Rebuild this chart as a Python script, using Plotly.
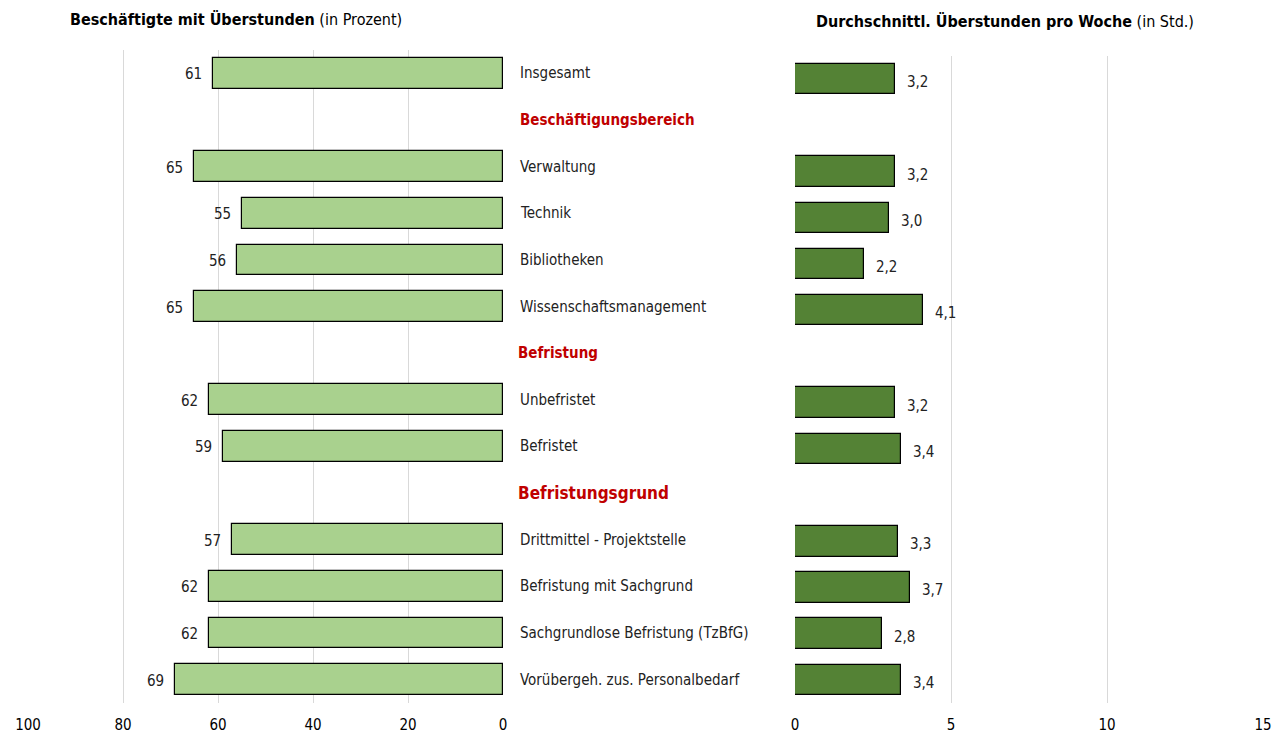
import plotly.graph_objects as go

categories = ["Insgesamt", "Beschäftigungsbereich", "Verwaltung", "Technik", "Bibliotheken",
              "Wissenschaftsmanagement", "Befristung", "Unbefristet", "Befristet",
              "Befristungsgrund", "Drittmittel - Projektstelle", "Befristung mit Sachgrund",
              "Sachgrundlose Befristung (TzBfG)", "Vorübergeh. zus. Personalbedarf"]
is_header = [False, True, False, False, False, False, True, False, False, True, False, False, False, False]
percent = [61, None, 65, 55, 56, 65, None, 62, 59, None, 57, 62, 62, 69]
hours = [3.2, None, 3.2, 3.0, 2.2, 4.1, None, 3.2, 3.4, None, 3.3, 3.7, 2.8, 3.4]
left_ticks = [100, 80, 60, 40, 20, 0]
right_ticks = [0, 5, 10, 15]

W, H = 1279, 735
FONT = "DejaVu Sans Condensed, DejaVu Sans"
FS = 15
ypos = list(range(len(categories)))

fig = go.Figure()
fig.add_trace(go.Bar(x=percent, y=ypos, orientation="h", xaxis="x", yaxis="y",
                     marker=dict(color="#A9D18E", line=dict(color="black", width=1.2)),
                     width=0.66, hoverinfo="x+y"))
fig.add_trace(go.Bar(x=hours, y=ypos, orientation="h", xaxis="x2", yaxis="y2",
                     marker=dict(color="#548235", line=dict(color="black", width=1.2)),
                     width=0.66, hoverinfo="x+y"))

ann = []
for i, (c, h, p, hr) in enumerate(zip(categories, is_header, percent, hours)):
    if h:
        size = 17 if c == "Befristungsgrund" else 15
        xp = 518 if c == "Beschäftigungsbereich" else 516
        ann.append(dict(text="<b>" + c + "</b>", x=xp / W, xref="paper", y=i, yref="y",
                        xanchor="left", yanchor="middle", showarrow=False,
                        font=dict(family=FONT, size=size, color="#C00000")))
    else:
        ann.append(dict(text=c, x=518 / W, xref="paper", y=i, yref="y",
                        xanchor="left", yanchor="middle", showarrow=False,
                        font=dict(family=FONT, size=FS, color="#222222")))
    if p is not None:
        ann.append(dict(text=str(p), x=p, xref="x", y=i, yref="y", xanchor="right",
                        yanchor="middle", xshift=-9, yshift=-1, showarrow=False,
                        font=dict(family=FONT, size=FS, color="#222222")))
    if hr is not None:
        ann.append(dict(text=f"{hr:.1f}".replace(".", ","), x=hr, xref="x2", y=i, yref="y2",
                        xanchor="left", yanchor="middle", xshift=10, yshift=-3, showarrow=False,
                        font=dict(family=FONT, size=FS, color="#222222")))

ann.append(dict(text="<b>Beschäftigte mit Überstunden</b> (in Prozent)", x=68 / W, xref="paper",
                y=1 - 19 / H, yref="paper", xanchor="left", yanchor="middle", showarrow=False,
                font=dict(family=FONT, size=16, color="black")))
ann.append(dict(text="<b>Durchschnittl. Überstunden pro Woche</b> (in Std.)", x=814 / W, xref="paper",
                y=1 - 21 / H, yref="paper", xanchor="left", yanchor="middle", showarrow=False,
                font=dict(family=FONT, size=16, color="black")))

n = len(categories)
fig.update_layout(
    width=W, height=H, autosize=False,
    margin=dict(l=0, r=0, t=0, b=0, autoexpand=False),
    plot_bgcolor="white", paper_bgcolor="white",
    showlegend=False, bargap=0,
    font=dict(family=FONT, size=FS, color="black"),
    xaxis=dict(domain=[28 / W, 503 / W], range=[100, 0], tickvals=left_ticks,
               showgrid=True, gridcolor="#d9d9d9", gridwidth=1, zeroline=False,
               showline=False, ticks="", tickfont=dict(family=FONT, size=FS, color="black"),
               ticklabelstandoff=11, anchor="y", fixedrange=True, automargin=False),
    yaxis=dict(domain=[1 - 703 / H, 1 - 50 / H], range=[n - 0.5, -0.5], showticklabels=False,
               showgrid=False, zeroline=False, showline=False, ticks="", anchor="x", automargin=False),
    xaxis2=dict(domain=[795 / W, 1263 / W], range=[0, 15], tickvals=right_ticks,
                showgrid=True, gridcolor="#d9d9d9", gridwidth=1, zeroline=False,
                showline=False, ticks="", tickfont=dict(family=FONT, size=FS, color="black"),
                ticklabelstandoff=11, anchor="y2", fixedrange=True, automargin=False),
    yaxis2=dict(domain=[1 - 703 / H, 1 - 56 / H], range=[n - 0.5, -0.5], showticklabels=False,
                showgrid=False, zeroline=False, showline=False, ticks="", anchor="x2", automargin=False),
    annotations=ann,
)

fig.write_html("out.html", config={"displayModeBar": False},
               post_script="document.body.style.margin='0px';")
